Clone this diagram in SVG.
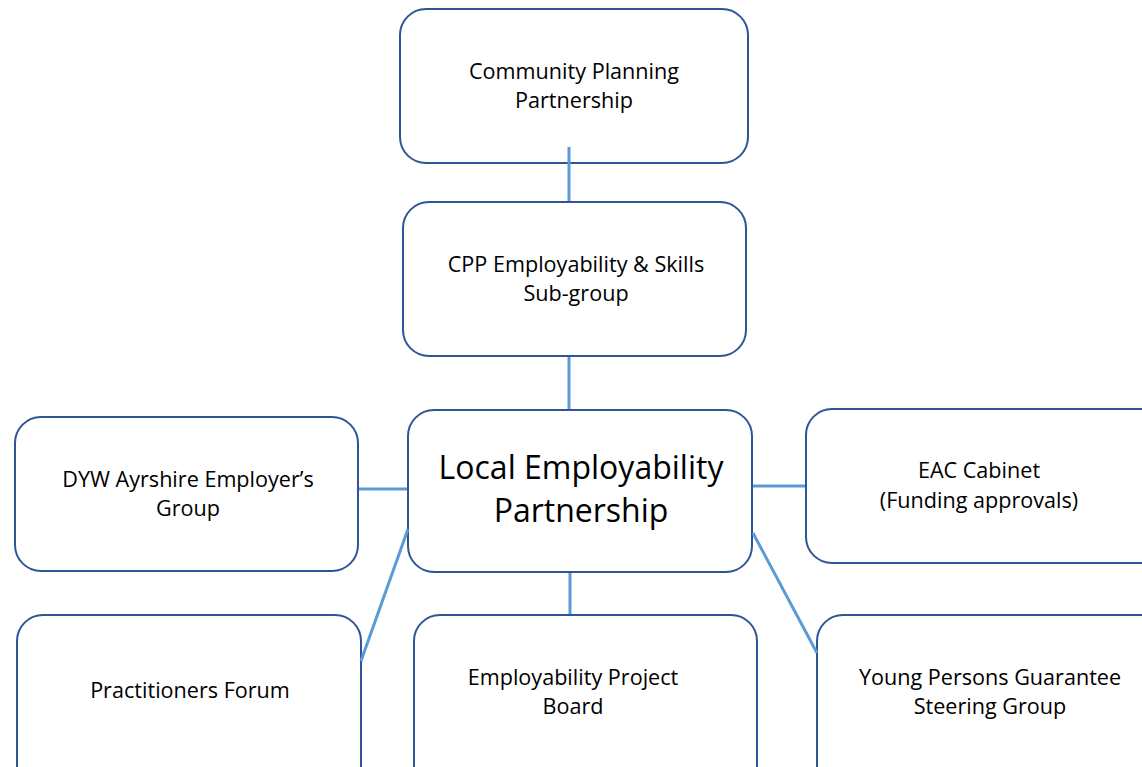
<svg xmlns="http://www.w3.org/2000/svg" width="1142" height="767" viewBox="0 0 1142 767">
<style>
.box{fill:#fff;stroke:#2f5597;stroke-width:2}
.t{font-family:"Open Sans",Lato,"Liberation Sans",sans-serif;font-size:21.6px;fill:#000;text-anchor:middle}
.big{font-size:32px}
.c{stroke:#5b9bd5;stroke-width:3;fill:none}
</style>
<rect width="1142" height="767" fill="#fff"/>
<g id="cpp">
<rect class="box" x="400" y="9" width="348" height="154" rx="26"/>
<text class="t" x="574" y="79">Community Planning</text>
<text class="t" x="574" y="108">Partnership</text>
</g>
<g id="cpp-es">
<rect class="box" x="403" y="202" width="343" height="154" rx="26"/>
<text class="t" x="576" y="272">CPP Employability &amp; Skills</text>
<text class="t" x="576" y="301">Sub-group</text>
</g>
<g id="lep">
<rect class="box" x="408" y="410" width="344" height="162" rx="26"/>
<text class="t big" x="581" y="479">Local Employability</text>
<text class="t big" x="581" y="522">Partnership</text>
</g>
<g id="dyw">
<rect class="box" x="15" y="417" width="343" height="154" rx="26"/>
<text class="t" x="188" y="487">DYW Ayrshire Employer’s</text>
<text class="t" x="188" y="516">Group</text>
</g>
<g id="eac">
<rect class="box" x="806" y="409" width="360" height="154" rx="26"/>
<text class="t" x="979" y="478">EAC Cabinet</text>
<text class="t" x="979" y="508">(Funding approvals)</text>
</g>
<g id="practitioners">
<rect class="box" x="17" y="615" width="344" height="180" rx="26"/>
<text class="t" x="190" y="698">Practitioners Forum</text>
</g>
<g id="epb">
<rect class="box" x="414" y="615" width="343" height="180" rx="26"/>
<text class="t" x="573" y="685">Employability Project</text>
<text class="t" x="573" y="714">Board</text>
</g>
<g id="ypg">
<rect class="box" x="817" y="615" width="350" height="180" rx="26"/>
<text class="t" x="990" y="685">Young Persons Guarantee</text>
<text class="t" x="990" y="714">Steering Group</text>
</g>
<g id="connectors">
<line class="c" x1="569" y1="147" x2="569" y2="201"/>
<line class="c" x1="569" y1="357" x2="569" y2="409"/>
<line class="c" x1="359" y1="489" x2="407" y2="489"/>
<line class="c" x1="753" y1="486" x2="805" y2="486"/>
<line class="c" x1="408" y1="529" x2="361" y2="661"/>
<line class="c" x1="570" y1="573" x2="570" y2="614"/>
<line class="c" x1="753" y1="533" x2="817" y2="653"/>
</g>
</svg>
